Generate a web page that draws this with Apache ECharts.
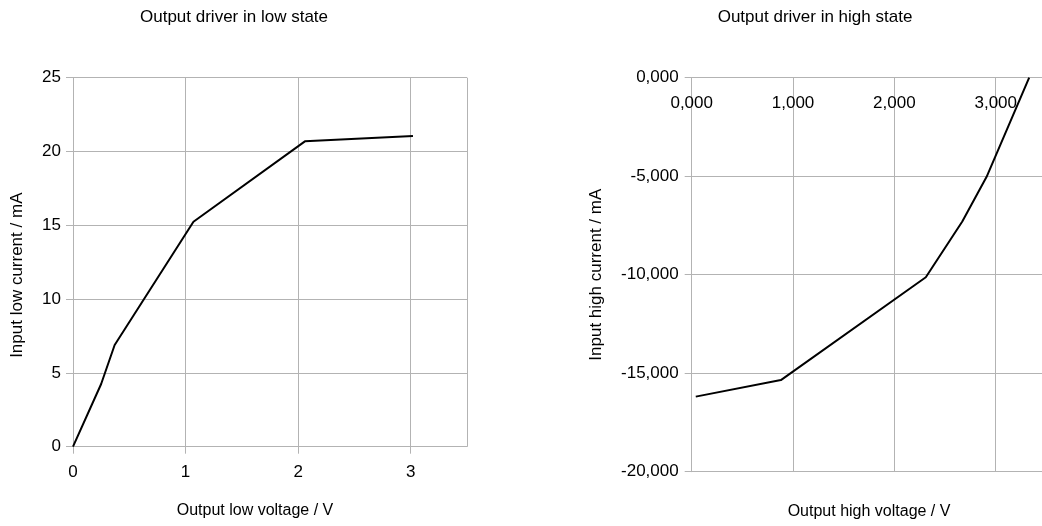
<!DOCTYPE html>
<html>
<head>
<meta charset="utf-8">
<script src="https://cdn.jsdelivr.net/npm/echarts@6/dist/echarts.min.js"></script>
<style>html,body{margin:0;padding:0;background:#fff}#c{width:1042px;height:526px}</style>
</head>
<body>
<div id="c"></div>
<script>
// Output driver in low state: [voltage V, current mA]
const lowVoltage = [0, 0.25, 0.37, 1.07, 2.06, 3.02];
const lowCurrent = [0, 4.25, 6.89, 15.24, 20.69, 21.05];
// Output driver in high state
const highVoltage = [0.04, 0.88, 2.31, 2.67, 2.91, 3.33];
const highCurrent = [-16.19, -15.35, -10.13, -7.3, -5.03, 0];

const lowXTicks = [0, 1, 2, 3];
const lowYTicks = [0, 5, 10, 15, 20, 25];
const highXTicks = [0, 1, 2, 3];
const highYTicks = [-20, -15, -10, -5, 0];

const FONT = '"Liberation Sans", Arial, sans-serif';
const GRID = '#b3b3b3';
const fmt3 = v => v.toFixed(3).replace('.', ',');

const chart = echarts.init(document.getElementById('c'), null, {renderer: 'canvas'});

const axisCommon = {
  type: 'value',
  axisLine: {show: true, onZero: true, lineStyle: {color: GRID, width: 1}},
  axisTick: {show: true, length: 7, lineStyle: {color: GRID}},
  splitLine: {show: true, lineStyle: {color: GRID, width: 1}},
  axisLabel: {color: '#000', fontFamily: FONT, fontSize: 17, showMaxLabel: false},
  nameTextStyle: {color: '#000', fontFamily: FONT, fontSize: 16},
  nameLocation: 'middle'
};

chart.setOption({
  animation: false,
  backgroundColor: '#fff',
  graphic: [
    {type: 'text', x: 234, y: 17, style: {text: 'Output driver in low state', font: '17px ' + FONT, fill: '#000', align: 'center', verticalAlign: 'middle'}},
    {type: 'text', x: 815, y: 17, style: {text: 'Output driver in high state', font: '17px ' + FONT, fill: '#000', align: 'center', verticalAlign: 'middle'}}
  ],
  grid: [
    {left: 73, top: 77.7, width: 394, height: 369, outerBoundsMode: 'none', containLabel: false},
    {left: 691.7, top: 77.7, width: 354.7, height: 394, outerBoundsMode: 'none', containLabel: false}
  ],
  xAxis: [
    Object.assign({}, axisCommon, {
      gridIndex: 0, min: lowXTicks[0], max: 3.5, interval: 1,
      name: 'Output low voltage / V', nameGap: 56,
      axisLabel: Object.assign({}, axisCommon.axisLabel, {margin: 17}),
      nameTextStyle: Object.assign({}, axisCommon.nameTextStyle, {padding: [0, 30, 0, 0]})
    }),
    Object.assign({}, axisCommon, {
      gridIndex: 1, min: highXTicks[0], max: 3.5, interval: 1,
      position: 'top',
      name: 'Output high voltage / V', nameGap: -442,
      axisTick: {show: false},
      axisLabel: Object.assign({}, axisCommon.axisLabel, {inside: true, margin: 17, formatter: fmt3})
    })
  ],
  yAxis: [
    Object.assign({}, axisCommon, {
      gridIndex: 0, min: lowYTicks[0], max: 25, interval: 5,
      name: 'Input low current / mA', nameGap: 47,
      axisLabel: Object.assign({}, axisCommon.axisLabel, {margin: 12, showMaxLabel: true}),
      nameTextStyle: Object.assign({}, axisCommon.nameTextStyle, {fontSize: 17, padding: [0, 26, 0, 0]})
    }),
    Object.assign({}, axisCommon, {
      gridIndex: 1, min: highYTicks[0], max: 0, interval: 5,
      name: 'Input high current / mA', nameGap: 87,
      axisLabel: Object.assign({}, axisCommon.axisLabel, {margin: 13, showMaxLabel: true, formatter: fmt3}),
      nameTextStyle: Object.assign({}, axisCommon.nameTextStyle, {fontSize: 17})
    })
  ],
  series: [
    {type: 'line', xAxisIndex: 0, yAxisIndex: 0, showSymbol: false, symbol: 'none',
     lineStyle: {color: '#000', width: 2}, data: lowVoltage.map((v, i) => [v, lowCurrent[i]])},
    {type: 'line', xAxisIndex: 1, yAxisIndex: 1, showSymbol: false, symbol: 'none',
     lineStyle: {color: '#000', width: 2}, data: highVoltage.map((v, i) => [v, highCurrent[i]])}
  ]
});
</script>
</body>
</html>
